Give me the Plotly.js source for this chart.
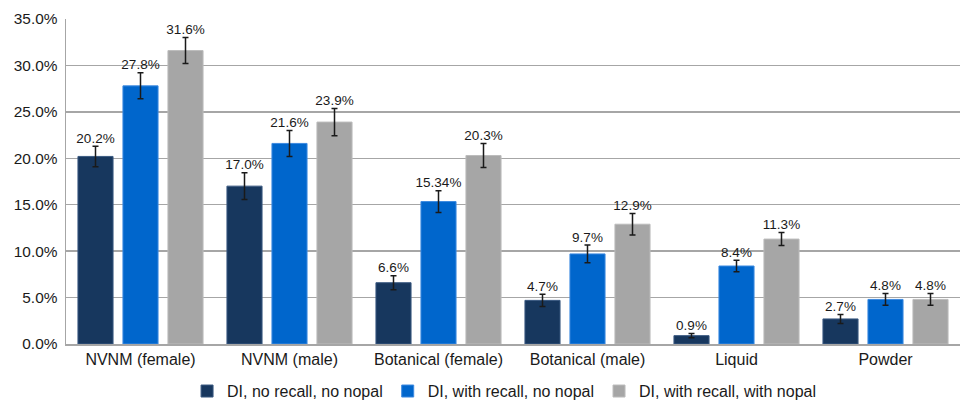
<!DOCTYPE html>
<html>
<head>
<meta charset="utf-8">
<script src="https://cdn.plot.ly/plotly-3.0.1.min.js"></script>
<style>html,body{margin:0;padding:0;background:#fff;}#chart{width:960px;height:400px;}</style>
</head>
<body>
<div id="chart"></div>
<script>
var categories = ["NVNM (female)", "NVNM (male)", "Botanical (female)", "Botanical (male)", "Liquid", "Powder"];
var seriesNames = ["DI, no recall, no nopal", "DI, with recall, no nopal", "DI, with recall, with nopal"];
var noRecallNoNopal = [20.2, 17.0, 6.6, 4.7, 0.9, 2.7];
var withRecallNoNopal = [27.8, 21.6, 15.34, 9.7, 8.4, 4.8];
var withRecallWithNopal = [31.6, 23.9, 20.3, 12.9, 11.3, 4.8];
var errNoRecallNoNopal = [1.1, 1.45, 0.75, 0.65, 0.24, 0.49];
var errWithRecallNoNopal = [1.4, 1.4, 1.17, 0.95, 0.63, 0.63];
var errWithRecallWithNopal = [1.4, 1.47, 1.3, 1.15, 0.7, 0.63];
var yTickVals = [0, 5, 10, 15, 20, 25, 30, 35];

var colors = ["#17375e", "#0066cc", "#a6a6a6"];
var lineColors = ["#3b5a82", "#3d8ae0", "#bcbcbc"];
var values = [noRecallNoNopal, withRecallNoNopal, withRecallWithNopal];
var errors = [errNoRecallNoNopal, errWithRecallNoNopal, errWithRecallWithNopal];

function fmt(v) {
  var s = String(v);
  var d = s.indexOf('.') >= 0 ? s.split('.')[1].length : 0;
  return v.toFixed(Math.max(1, d)) + '%';
}

var BARGAP = 0.094;
var traces = [];
for (var i = 0; i < 3; i++) {
  traces.push({
    type: 'bar',
    name: seriesNames[i],
    x: categories,
    y: values[i],
    offsetgroup: String(i),
    marker: {color: colors[i], line: {color: lineColors[i], width: 1}},
    error_y: {type: 'data', array: errors[i], visible: true, color: '#1a1a1a', thickness: 1.5, width: 3},
    hoverinfo: 'skip'
  });
}
for (var j = 0; j < 3; j++) {
  traces.push({
    type: 'scatter',
    mode: 'text',
    x: categories,
    y: values[j].map(function (v, k) { return v + errors[j][k]; }),
    text: values[j].map(fmt),
    textposition: 'top center',
    textfont: {family: 'Liberation Sans, Arial, sans-serif', size: 13.5, color: '#1a1a1a'},
    offsetgroup: String(j),
    showlegend: false,
    hoverinfo: 'skip',
    cliponaxis: false
  });
}

var layout = {
  width: 960, height: 400,
  margin: {l: 66, r: 0, t: 19, b: 56, autoexpand: false},
  paper_bgcolor: '#ffffff', plot_bgcolor: '#ffffff',
  barmode: 'group',
  bargap: BARGAP,
  bargroupgap: 0.22,
  scattermode: 'group',
  scattergap: BARGAP,
  font: {family: 'Liberation Sans, Arial, sans-serif', color: '#1a1a1a'},
  xaxis: {
    type: 'category',
    showgrid: false,
    showline: true, linecolor: '#a6a6a6', linewidth: 2,
    ticks: '', tickfont: {size: 16, color: '#1a1a1a'},
    automargin: false,
    fixedrange: true
  },
  yaxis: {
    range: [0, 35],
    tickvals: yTickVals,
    ticktext: yTickVals.map(function (v) { return v.toFixed(1) + '%'; }),
    showgrid: true, gridcolor: '#a6a6a6', gridwidth: 1.5,
    zeroline: false,
    showline: true, linecolor: '#a6a6a6', linewidth: 1.5,
    ticks: '', tickfont: {size: 15.4, color: '#1a1a1a'},
    ticklabelstandoff: 4,
    automargin: false,
    fixedrange: true
  },
  legend: {
    orientation: 'h',
    x: 0.49, xanchor: 'center',
    y: -0.145, yanchor: 'middle',
    font: {size: 16, color: '#1a1a1a'},
    itemwidth: 30,
    traceorder: 'normal'
  },
  showlegend: true
};

Plotly.newPlot('chart', traces, layout, {staticPlot: true, displayModeBar: false});
</script>
</body>
</html>
